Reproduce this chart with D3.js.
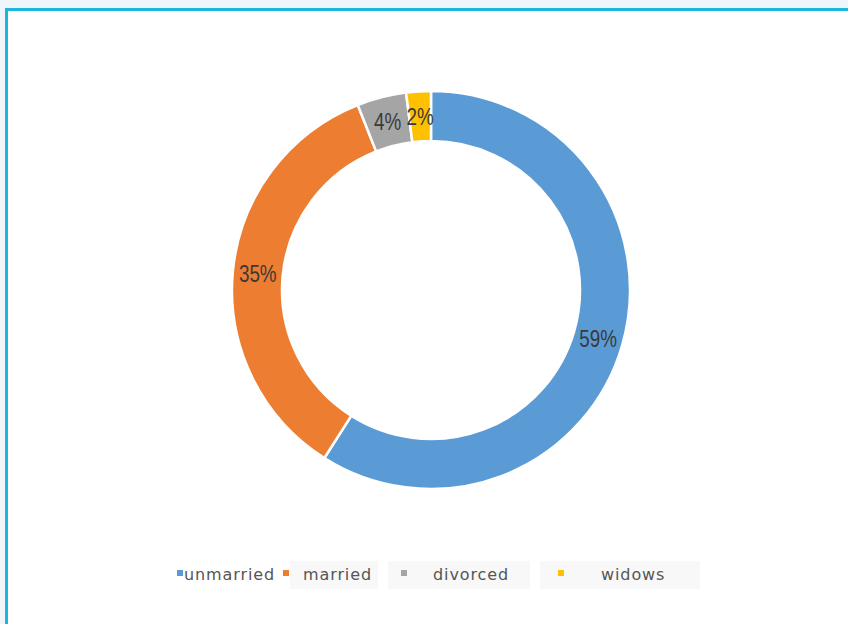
<!DOCTYPE html>
<html>
<head>
<meta charset="utf-8">
<script src="https://cdn.jsdelivr.net/npm/d3@7"></script>
<style>
  html, body { margin: 0; padding: 0; background: #eef6fa; }
  #chart { display: block; }
</style>
</head>
<body>
<svg id="chart" width="848" height="624"></svg>
<script>
// data
const categories = ["unmarried", "married", "divorced", "widows"];
const values = [59, 35, 4, 2];
const colors = ["#5b9bd5", "#ed7d31", "#a5a5a5", "#ffc000"];

const svg = d3.select("#chart");
const W = 848, H = 624;

// frame (light strip top/left + cyan border)
svg.append("rect").attr("x", 5).attr("y", 8).attr("width", W - 5).attr("height", H - 8).attr("fill", "#fff");
svg.append("rect").attr("x", 5).attr("y", 8).attr("width", W - 5).attr("height", 3).attr("fill", "#1ab8e0");
svg.append("rect").attr("x", 5).attr("y", 8).attr("width", 3).attr("height", H - 8).attr("fill", "#1ab8e0");

const cx = 431, cy = 290;
const outerR = 199, innerR = 149;

const pie = d3.pie().sort(null).value(d => d);
const arcs = pie(values);
const arc = d3.arc().innerRadius(innerR).outerRadius(outerR);

const g = svg.append("g").attr("transform", `translate(${cx},${cy})`);

g.selectAll("path.slice")
  .data(arcs)
  .enter()
  .append("path")
  .attr("class", "slice")
  .attr("d", arc)
  .attr("fill", (d, i) => colors[i])
  .attr("stroke", "#fff")
  .attr("stroke-width", 2.5);

// labels at ring centroid, condensed like the original
g.selectAll("text.lbl")
  .data(arcs)
  .enter()
  .append("text")
  .attr("class", "lbl")
  .attr("transform", d => {
    const [x, y] = arc.centroid(d);
    return `translate(${x},${y}) scale(0.82,1)`;
  })
  .attr("text-anchor", "middle")
  .attr("dy", "0.36em")
  .attr("font-family", "Liberation Sans, Arial, sans-serif")
  .attr("font-size", 23)
  .attr("fill", "#3a3a3a")
  .text(d => d.data + "%");

// legend
const legendX = [177, 283, 401, 558];
const legendTextX = [184, 303, 433, 601];
const legendBoxes = [[290, 378], [388, 530], [540, 700]];

svg.append("g").selectAll("rect")
  .data(legendBoxes)
  .enter()
  .append("rect")
  .attr("x", d => d[0])
  .attr("y", 561)
  .attr("width", d => d[1] - d[0])
  .attr("height", 28)
  .attr("fill", "#f8f8f8");

const leg = svg.append("g").selectAll("g")
  .data(categories)
  .enter()
  .append("g");

leg.append("rect")
  .attr("x", (d, i) => legendX[i])
  .attr("y", 570)
  .attr("width", 6)
  .attr("height", 6)
  .attr("fill", (d, i) => colors[i]);

leg.append("text")
  .attr("x", (d, i) => legendTextX[i])
  .attr("y", 580)
  .attr("font-family", "DejaVu Sans, sans-serif")
  .attr("font-size", 16)
  .attr("letter-spacing", 0.9)
  .attr("fill", "#555")
  .text(d => d);
</script>
</body>
</html>
